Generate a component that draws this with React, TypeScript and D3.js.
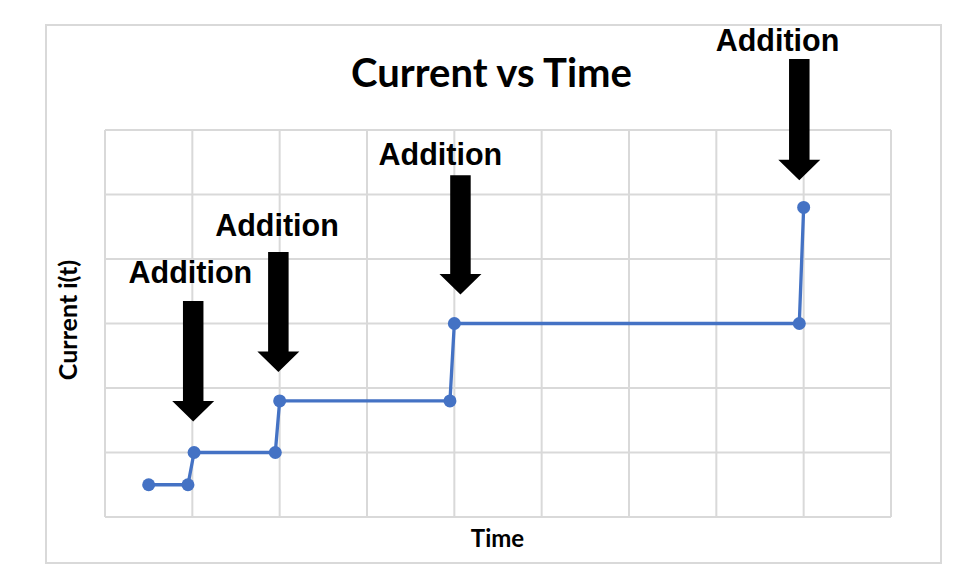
import React from "react";
import * as d3 from "d3";

const times = [0.5, 0.95, 1.02, 1.95, 2.0, 3.95, 4.0, 7.95, 8.0];
const currents = [0.5, 0.5, 1.0, 1.0, 1.8, 1.8, 3.0, 3.0, 4.8];

const arrowX = [1.01, 1.985, 4.07, 7.95];
const arrowTailY = [3.35, 4.11, 5.3, 7.1];
const arrowTipY = [1.48, 2.25, 3.45, 5.22];
const labelText = ["Addition", "Addition", "Addition", "Addition"];
const labelX = [0.977, 1.97, 3.84, 7.7];
const labelY = [3.63, 4.36, 5.46, 7.22];

const xTicks = [0, 1, 2, 3, 4, 5, 6, 7, 8, 9];
const yTicks = [0, 1, 2, 3, 4, 5, 6];

export default function App() {
  const W = 966, H = 568;
  const left = 105, right = 891, top = 130, bottom = 517;
  const x = d3.scaleLinear().domain([0, 9]).range([left, right]);
  const y = d3.scaleLinear().domain([0, 6]).range([bottom, top]);
  const pts = times.map((t, i) => [t, currents[i]] as [number, number]);
  const line = d3.line<[number, number]>().x(d => x(d[0])).y(d => y(d[1]));
  const grid = "#d9d9d9";
  const shaftW = 20.5, headW = 42, headL = 20.5;

  const arrowPath = (i: number) => {
    const cx = x(arrowX[i]);
    const t0 = y(arrowTailY[i]);
    const tip = y(arrowTipY[i]);
    const hs = tip - headL;
    const p = d3.path();
    p.moveTo(cx - shaftW / 2, t0);
    p.lineTo(cx + shaftW / 2, t0);
    p.lineTo(cx + shaftW / 2, hs);
    p.lineTo(cx + headW / 2, hs);
    p.lineTo(cx, tip);
    p.lineTo(cx - headW / 2, hs);
    p.lineTo(cx - shaftW / 2, hs);
    p.closePath();
    return p.toString();
  };

  return (
    <svg width={W} height={H} style={{ position: "absolute", left: 0, top: 0, background: "#fff" }}>
      <rect x={46} y={25} width={895} height={538} fill="#fff" stroke={grid} strokeWidth={2} />
      <text x={491.5} y={87} textAnchor="middle" fontFamily="Lato, 'Open Sans', sans-serif" fontWeight="bold" fontSize={40} fill="#000">
        Current vs Time
      </text>
      {yTicks.map(v => (
        <line key={"h" + v} x1={left} x2={right} y1={y(v)} y2={y(v)} stroke={grid} strokeWidth={2} />
      ))}
      {xTicks.map(v => (
        <line key={"v" + v} x1={x(v)} x2={x(v)} y1={top} y2={bottom} stroke={grid} strokeWidth={2} />
      ))}
      <path d={line(pts) || ""} fill="none" stroke="#4472C4" strokeWidth={3.3} />
      {pts.map((p, i) => (
        <circle key={"c" + i} cx={x(p[0])} cy={y(p[1])} r={6.5} fill="#4472C4" />
      ))}
      {arrowX.map((_, i) => (
        <path key={"a" + i} d={arrowPath(i)} fill="#000" />
      ))}
      {labelText.map((s, i) => (
        <text key={"l" + i} x={x(labelX[i])} y={y(labelY[i])} textAnchor="middle" fontFamily="'Liberation Sans', Arial, sans-serif" fontWeight="bold" fontSize={30.5} fill="#000">
          {s}
        </text>
      ))}
      <text x={497.5} y={547} textAnchor="middle" fontFamily="Lato, 'Open Sans', sans-serif" fontWeight="bold" fontSize={24} fill="#000">
        Time
      </text>
      <text transform="translate(76.5,320) rotate(-90)" textAnchor="middle" fontFamily="Lato, 'Open Sans', sans-serif" fontWeight="bold" fontSize={25} fill="#000">
        Current i(t)
      </text>
    </svg>
  );
}
